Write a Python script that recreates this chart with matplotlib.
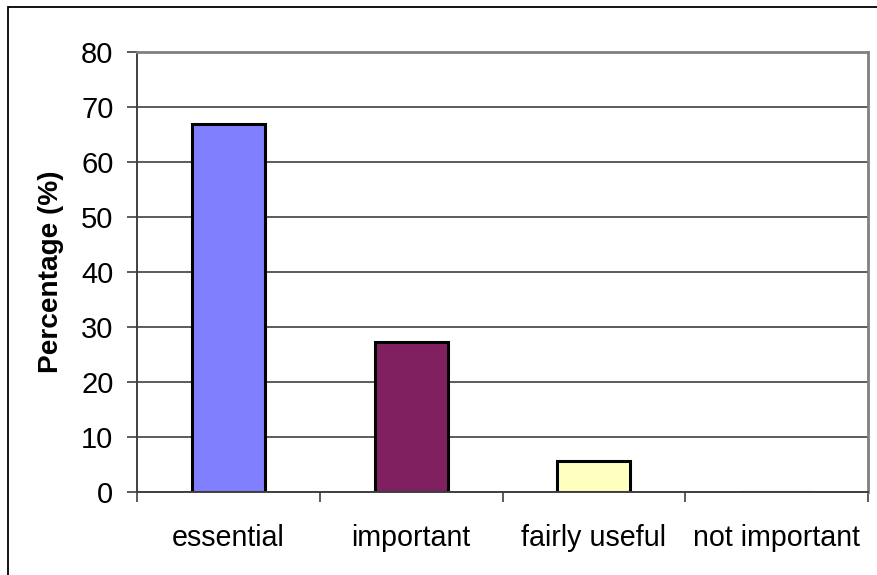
import matplotlib
matplotlib.use('Agg')
import matplotlib.pyplot as plt
from matplotlib.patches import Rectangle
from matplotlib.ticker import FixedLocator, NullFormatter

plt.rcParams['font.family'] = ['Liberation Sans', 'DejaVu Sans']

# survey responses, share of answers per rating
categories = ['essential', 'important', 'fairly useful', 'not important']
percent = [67.0, 27.3, 5.6, 0.0]
bar_colors = ['#8080FF', '#802060', '#FFFFC0', '#CCFFFF']
yticks = [0, 10, 20, 30, 40, 50, 60, 70, 80]

W, H = 877, 575
fig = plt.figure(figsize=(W / 100, H / 100), dpi=100)
ax = fig.add_axes([137 / W, 1 - 492 / H, (868 - 137) / W, (492 - 52) / H])

pos = list(range(len(categories)))
ax.bar(pos, percent, width=0.4, color=bar_colors, edgecolor='black',
       linewidth=2.2, zorder=2)

ax.set_xlim(-0.5, len(categories) - 0.5)
ax.set_ylim(0, 80)
ax.set_yticks(yticks)
ax.tick_params(axis='y', direction='out', length=7, width=1.2,
               color='#404040', labelsize=21, pad=10)

# category separators as major ticks, names on minor ticks
ax.xaxis.set_major_locator(FixedLocator([p - 0.5 for p in pos] + [pos[-1] + 0.5]))
ax.xaxis.set_major_formatter(NullFormatter())
ax.set_xticks(pos, minor=True)
ax.set_xticklabels(categories, minor=True)
ax.tick_params(axis='x', which='major', direction='out', length=7, width=1.2,
               color='#404040')
ax.tick_params(axis='x', which='minor', length=0, labelsize=20.6, pad=23)

ax.yaxis.grid(True, color='#404040', linewidth=1.2, zorder=0)
ax.set_axisbelow(True)

for side in ('top', 'right'):
    ax.spines[side].set_color('#808080')
    ax.spines[side].set_linewidth(2)
for side in ('left', 'bottom'):
    ax.spines[side].set_color('#404040')
    ax.spines[side].set_linewidth(1.4)

ax.set_ylabel('Percentage (%)', fontsize=20.2, fontweight='bold')
ax.yaxis.set_label_coords((64 - 137) / (868 - 137), 0.5)

# chart-area frame
fig.patches.append(Rectangle((8 / W, -0.1), 1.2, 1 - 7 / H + 0.1,
                             transform=fig.transFigure, fill=False,
                             edgecolor='black', linewidth=1.3))

fig.savefig('out.png', dpi=100)
